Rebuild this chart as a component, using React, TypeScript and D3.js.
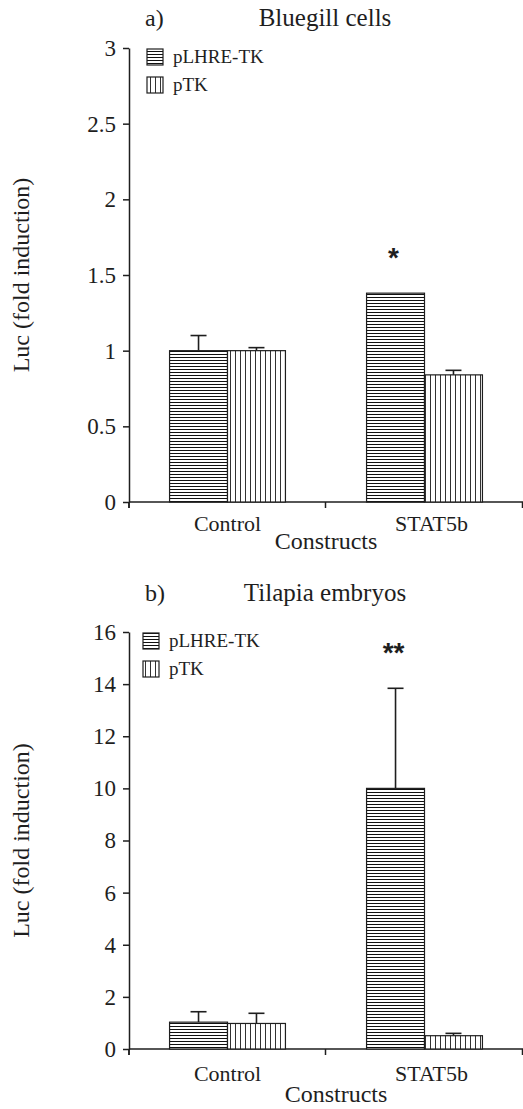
import { useEffect, useRef } from 'react';
import * as d3 from 'd3';

// categories on the x axis and the two reporter constructs
const constructs = ['Control', 'STAT5b'];
const seriesNames = ['pLHRE-TK', 'pTK'];

// a) Bluegill cells — [pLHRE-TK, pTK] for each construct
const bluegillMeans = [
  [1.0, 1.0],
  [1.38, 0.84],
];
const bluegillErrors = [
  [0.1, 0.02],
  [0, 0.03],
];
const bluegillStars = ['', '*'];
const bluegillTicks = [0, 0.5, 1, 1.5, 2, 2.5, 3];

// b) Tilapia embryos
const tilapiaMeans = [
  [1.03, 0.98],
  [10.0, 0.51],
];
const tilapiaErrors = [
  [0.4, 0.39],
  [3.84, 0.09],
];
const tilapiaStars = ['', '**'];
const tilapiaTicks = [0, 2, 4, 6, 8, 10, 12, 14, 16];

const SERIF = '"Liberation Serif", "Times New Roman", serif';
const INK = '#1e1e1e';

const App = () => {
  const svgRef = useRef<SVGSVGElement | null>(null);

  const drawChart = () => {
    const svg = d3.select(svgRef.current);
    svg.selectAll('*').remove();

    // fill patterns: horizontal stripes for pLHRE-TK, vertical for pTK
    const defs = svg.append('defs');
    const hpat = defs
      .append('pattern')
      .attr('id', 'hpat')
      .attr('patternUnits', 'userSpaceOnUse')
      .attr('width', 10)
      .attr('height', 3);
    hpat.append('rect').attr('width', 10).attr('height', 3).attr('fill', 'white');
    hpat.append('rect').attr('width', 10).attr('height', 1).attr('fill', '#111');

    const vpat = defs
      .append('pattern')
      .attr('id', 'vpat')
      .attr('patternUnits', 'userSpaceOnUse')
      .attr('width', 5)
      .attr('height', 10);
    vpat.append('rect').attr('width', 5).attr('height', 10).attr('fill', 'white');
    vpat.append('rect').attr('width', 1).attr('height', 10).attr('fill', '#333');

    const fills = ['url(#hpat)', 'url(#vpat)'];

    const panels = [
      {
        label: 'a)',
        title: 'Bluegill cells',
        means: bluegillMeans,
        errors: bluegillErrors,
        stars: bluegillStars,
        ticks: bluegillTicks,
        yBottom: 502,
        yTop: 48,
        titleY: 26,
        legendX: 147,
        catDy: 29,
        axisTitleDy: 47,
        axisTitleDx: 0,
      },
      {
        label: 'b)',
        title: 'Tilapia embryos',
        means: tilapiaMeans,
        errors: tilapiaErrors,
        stars: tilapiaStars,
        ticks: tilapiaTicks,
        yBottom: 1049,
        yTop: 632,
        titleY: 601,
        legendX: 143,
        catDy: 32,
        axisTitleDy: 53,
        axisTitleDx: 10,
      },
    ];

    const left = 129;
    const right = 523;

    panels.forEach((p) => {
      const g = svg.append('g');
      const maxTick = p.ticks[p.ticks.length - 1];

      const y = d3.scaleLinear().domain([0, maxTick]).range([p.yBottom, p.yTop]);
      const x0 = d3.scaleBand().domain(constructs).range([left, right]).padding(0);
      const x1 = d3
        .scaleBand()
        .domain(seriesNames)
        .range([0, x0.bandwidth()])
        .paddingInner(0)
        .paddingOuter(0.7);

      // y axis
      const yAxis = g
        .append('g')
        .attr('transform', `translate(${left},0)`)
        .call(
          d3
            .axisLeft(y)
            .tickValues(p.ticks)
            .tickSize(6)
            .tickSizeOuter(0)
            .tickPadding(7)
            .tickFormat(d3.format('~g'))
        )
        .attr('font-family', SERIF)
        .attr('font-size', 23);
      yAxis.select('.domain').attr('stroke', INK).attr('stroke-width', 1.5);
      yAxis.selectAll('.tick line').attr('stroke', INK).attr('stroke-width', 1.5);
      yAxis.selectAll('.tick text').attr('fill', INK);

      // y axis continues a little below zero
      g.append('line')
        .attr('x1', left)
        .attr('x2', left)
        .attr('y1', y(0))
        .attr('y2', y(0) + 6)
        .attr('stroke', INK)
        .attr('stroke-width', 1.5);

      // x axis line with ticks at the band edges
      g.append('line')
        .attr('x1', left)
        .attr('x2', right)
        .attr('y1', y(0))
        .attr('y2', y(0))
        .attr('stroke', INK)
        .attr('stroke-width', 1.5);

      const edges = [x0(constructs[0]), ...constructs.map((c) => x0(c) + x0.bandwidth() - 0.5)];
      edges.forEach((ex) => {
        g.append('line')
          .attr('x1', ex)
          .attr('x2', ex)
          .attr('y1', y(0))
          .attr('y2', y(0) + 6)
          .attr('stroke', INK)
          .attr('stroke-width', 1.5);
      });

      // category labels
      const catShift = [0, 7];
      constructs.forEach((c, i) => {
        g.append('text')
          .attr('x', x0(c) + x0.bandwidth() / 2 + catShift[i])
          .attr('y', y(0) + p.catDy)
          .attr('text-anchor', 'middle')
          .attr('fill', INK)
          .style('font-family', SERIF)
          .style('font-size', '22px')
          .text(c);
      });

      g.append('text')
        .attr('x', (left + right) / 2 + p.axisTitleDx)
        .attr('y', y(0) + p.axisTitleDy)
        .attr('text-anchor', 'middle')
        .attr('fill', INK)
        .style('font-family', SERIF)
        .style('font-size', '24px')
        .text('Constructs');

      // y axis title
      g.append('text')
        .attr('transform', `translate(29,${(p.yBottom + p.yTop) / 2}) rotate(-90)`)
        .attr('text-anchor', 'middle')
        .attr('fill', INK)
        .style('font-family', SERIF)
        .style('font-size', '24px')
        .text('Luc (fold induction)');

      // panel title
      g.append('text')
        .attr('x', 145)
        .attr('y', p.titleY)
        .attr('fill', INK)
        .style('font-family', SERIF)
        .style('font-size', '24px')
        .text(p.label);
      g.append('text')
        .attr('x', 325)
        .attr('y', p.titleY)
        .attr('text-anchor', 'middle')
        .attr('fill', INK)
        .style('font-family', SERIF)
        .style('font-size', '25px')
        .text(p.title);

      // bars, error bars and significance marks
      constructs.forEach((c, ci) => {
        seriesNames.forEach((s, si) => {
          const mean = p.means[ci][si];
          const err = p.errors[ci][si];
          const bx = x0(c) + x1(s);
          const bw = x1.bandwidth();
          const cx = bx + bw / 2;

          if (err > 0) {
            g.append('line')
              .attr('x1', cx)
              .attr('x2', cx)
              .attr('y1', y(mean))
              .attr('y2', y(mean + err))
              .attr('stroke', INK)
              .attr('stroke-width', 1.6);
            g.append('line')
              .attr('x1', cx - 8)
              .attr('x2', cx + 8)
              .attr('y1', y(mean + err))
              .attr('y2', y(mean + err))
              .attr('stroke', INK)
              .attr('stroke-width', 1.6);
          }

          g.append('rect')
            .attr('x', bx)
            .attr('y', y(mean))
            .attr('width', bw)
            .attr('height', y(0) - y(mean))
            .attr('fill', fills[si])
            .attr('stroke', INK)
            .attr('stroke-width', 1.2);

          if (si === 0 && p.stars[ci]) {
            g.append('text')
              .attr('x', cx - 2)
              .attr('y', y(mean + err) - 26)
              .attr('text-anchor', 'middle')
              .attr('fill', INK)
              .style('font-family', '"Liberation Sans", Arial, sans-serif')
              .style('font-weight', 'bold')
              .style('font-size', '28px')
              .text(p.stars[ci]);
          }
        });
      });

      // legend
      seriesNames.forEach((s, si) => {
        const ly = p.yTop + 1 + si * 28;
        g.append('rect')
          .attr('x', p.legendX)
          .attr('y', ly)
          .attr('width', 16)
          .attr('height', 16)
          .attr('fill', fills[si])
          .attr('stroke', INK)
          .attr('stroke-width', 1.2);
        g.append('text')
          .attr('x', p.legendX + 26)
          .attr('y', ly + 14)
          .attr('fill', INK)
          .style('font-family', SERIF)
          .style('font-size', '19px')
          .text(s);
      });
    });
  };

  useEffect(() => {
    document.body.style.margin = '0';
    drawChart();
  }, []);

  return (
    <svg ref={svgRef} width={523} height={1109} style={{ display: 'block', background: 'white' }} />
  );
};

export default App;
